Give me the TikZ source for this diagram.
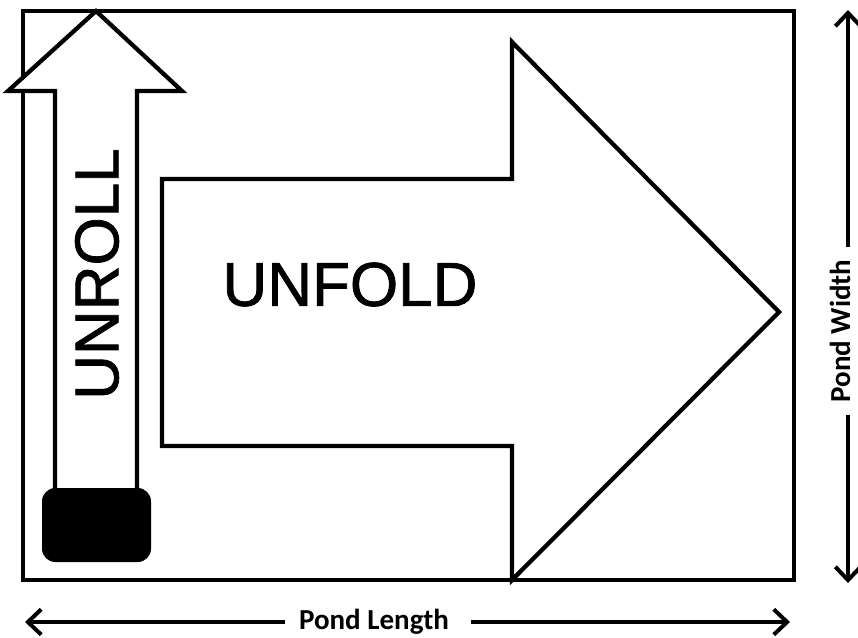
\documentclass[tikz,border=0pt]{standalone}
\usepackage{fontspec}
\setmainfont{Liberation Sans}
\newfontfamily\heavyfont[FakeBold=1.2]{Liberation Sans}
\newfontfamily\calib{Carlito}
\usetikzlibrary{arrows.meta}
\begin{document}
\begin{tikzpicture}[x=0.75pt,y=-0.75pt,
  outline/.style={draw=black,line width=3.2pt,line join=miter},
  bigtext/.style={font=\heavyfont\fontsize{46.5}{50}\selectfont, inner sep=0pt},
  dimtext/.style={font=\calib\bfseries\fontsize{21.75}{24}\selectfont, inner sep=0pt},
  dimline/.style={line width=3pt, -{Straight Barb[length=10pt,width=19pt]}}]
\useasboundingbox (0,0) rectangle (858,637);
\fill[white] (0,0) rectangle (858,637);
% pond outline
\draw[outline] (23,11) rectangle (794,580);
% unfold arrow
\draw[outline, fill=white] (162,179) -- (512,179) -- (512,42) -- (779,312) -- (512,580) -- (512,446) -- (162,446) -- cycle;
% unroll arrow
\draw[outline, fill=white] (55,488) -- (55,91) -- (8,91) -- (96,11) -- (182,91) -- (137,91) -- (137,488);
\fill[rounded corners=10] (42,488) rectangle (151,562);
% texts
\node[bigtext] (unfold) at (350,284.5) {UNFOLD};
\node[bigtext, rotate=90] (unroll) at (97,274) {UNROLL};
\node[dimtext, anchor=base] (plen) at (374,629) {Pond Length};
\node[dimtext, anchor=base, rotate=90] (pwid) at (850,331) {Pond Width};
% dimension arrows
\coordinate (lenL) at (25,622);
\coordinate (lenR) at (790,622);
\coordinate (widT) at (848,10);
\coordinate (widB) at (848,583);
\draw[dimline] ([xshift=-10pt]plen.west |- lenL) -- (lenL);
\draw[dimline] ([xshift=16pt]plen.east |- lenR) -- (lenR);
\draw[dimline] (widT |- pwid.east) ++(0,-12) -- (widT);
\draw[dimline] (widB |- pwid.west) ++(0,12) -- (widB);
\end{tikzpicture}
\end{document}
